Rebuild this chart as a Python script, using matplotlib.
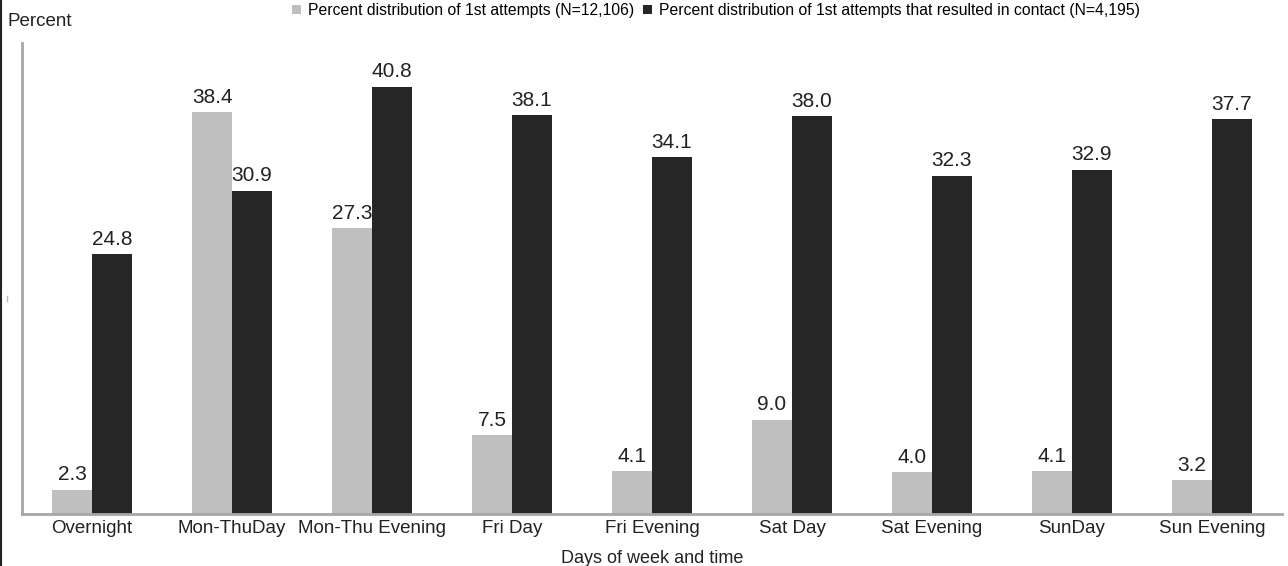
import matplotlib
matplotlib.use("Agg")
import matplotlib.pyplot as plt
from matplotlib.lines import Line2D
import numpy as np

plt.rcParams['font.family'] = ['Liberation Sans', 'DejaVu Sans']

categories = ['Overnight', 'Mon-ThuDay', 'Mon-Thu Evening', 'Fri Day', 'Fri Evening',
              'Sat Day', 'Sat Evening', 'SunDay', 'Sun Evening']
all_attempts = [2.3, 38.4, 27.3, 7.5, 4.1, 9.0, 4.0, 4.1, 3.2]
contact_attempts = [24.8, 30.9, 40.8, 38.1, 34.1, 38.0, 32.3, 32.9, 37.7]
series_labels = ['Percent distribution of 1st attempts (N=12,106)',
                 'Percent distribution of 1st attempts that resulted in contact (N=4,195)']

light = '#bfbfbf'
dark = '#262626'

fig = plt.figure(figsize=(12.88, 5.66), dpi=100)
ax = fig.add_axes([0.0171, 0.0919, 0.9782, 0.8321])

x = np.arange(len(categories))
w = 0.285
b1 = ax.bar(x - w / 2, all_attempts, w, color=light, label=series_labels[0])
b2 = ax.bar(x + w / 2, contact_attempts, w, color=dark, label=series_labels[1])

for bars, vals in ((b1, all_attempts), (b2, contact_attempts)):
    for bar, v in zip(bars, vals):
        ax.annotate(f'{v:.1f}', (bar.get_x() + bar.get_width() / 2, v),
                    xytext=(0, 4), textcoords='offset points',
                    ha='center', va='bottom', fontsize=15, color='#222222')

ax.set_xlim(-0.5, len(categories) - 0.5)
ax.set_ylim(0, 45)
ax.set_xticks(x)
ax.set_xticklabels(categories, fontsize=13.5, color='#222222')
ax.tick_params(axis='x', length=0, pad=4)
ax.set_yticks([])
ax.set_xlabel('Days of week and time', fontsize=13, color='#222222', labelpad=10)

for side in ('top', 'right'):
    ax.spines[side].set_visible(False)
for side in ('left', 'bottom'):
    ax.spines[side].set_color('#a6a6a6')
    ax.spines[side].set_linewidth(2)

fig.text(0.006, 0.962, 'Percent', fontsize=13.5, color='#222222', va='center', ha='left')

fig.legend(loc='upper left', bbox_to_anchor=(0.222, 1.006), ncol=2, frameon=False,
           fontsize=11.3, handlelength=0.55, handleheight=0.55, handletextpad=0.45,
           columnspacing=0.6, borderaxespad=0)

# thin frame line on the left edge and a stray tick mark
fig.add_artist(Line2D([0.0008, 0.0008], [0, 1], transform=fig.transFigure,
                      color='#222222', linewidth=1.5))
fig.add_artist(Line2D([0.0058, 0.0058], [0.468, 0.477], transform=fig.transFigure,
                      color='#bbbbbb', linewidth=1))

fig.savefig('out.png', dpi=100)
